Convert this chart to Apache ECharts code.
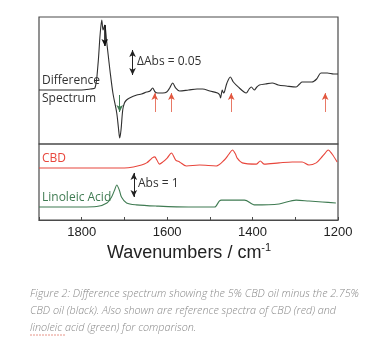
<!DOCTYPE html>
<html>
<head>
<meta charset="utf-8">
<script src="https://cdn.jsdelivr.net/npm/echarts@6/dist/echarts.min.js"></script>
<style>
html, body { margin: 0; padding: 0; background: #fff; }
#main { width: 391px; height: 354px; }
</style>
</head>
<body>
<div id="main"></div>
<script>
// difference spectrum (5% minus 2.75% CBD oil), delta Abs
var diffWn = [1900, 1850, 1800, 1780, 1769, 1762, 1757, 1753, 1750, 1746, 1742, 1738, 1734, 1727, 1718, 1714, 1711, 1708, 1704, 1700, 1695, 1688, 1671, 1660, 1648, 1640, 1634, 1628, 1622, 1610, 1601, 1594, 1587, 1580, 1571, 1550, 1530, 1517, 1500, 1482, 1477, 1475, 1471, 1468, 1466, 1460, 1452, 1445, 1431, 1420, 1415, 1408, 1403, 1396, 1390, 1384, 1370, 1354, 1340, 1321, 1298, 1290, 1284, 1270, 1261, 1250, 1240, 1225, 1210, 1200];
var diffAbs = [0, 0, 0, 0.002, 0.004, 0.05, 0.11, 0.14, 0.12, 0.13, 0.1, 0.07, 0.04, -0.006, -0.046, -0.076, -0.096, -0.08, -0.04, -0.026, -0.02, -0.016, -0.01, -0.008, -0.004, -0.002, 0.004, -0.004, -0.006, -0.006, -0.004, 0.004, 0.014, 0.004, -0.002, 0, 0.002, 0.002, -0.002, -0.006, -0.01, -0.016, 0, -0.006, -0.004, 0.014, 0.026, 0.016, 0.004, -0.004, -0.006, 0.002, 0.006, 0, 0.006, 0.01, 0.012, 0.014, 0.01, 0.008, 0.006, 0.012, 0.016, 0.016, 0.016, 0.022, 0.034, 0.034, 0.032, 0.032];

// reference spectra, Abs
var cbdWn = [1900, 1800, 1700, 1679, 1660, 1648, 1640, 1634, 1629, 1624, 1618, 1610, 1600, 1590, 1580, 1571, 1555, 1524, 1485, 1466, 1455, 1447, 1440, 1436, 1424, 1391, 1382, 1373, 1338, 1307, 1284, 1268, 1251, 1240, 1230, 1223, 1214, 1202];
var cbdAbs = [2.17, 2.17, 2.17, 2.21, 2.29, 2.38, 2.5, 2.6, 2.63, 2.5, 2.33, 2.42, 2.58, 2.79, 2.5, 2.42, 2.25, 2.29, 2.25, 2.5, 2.75, 2.92, 2.75, 2.58, 2.38, 2.33, 2.46, 2.33, 2.38, 2.42, 2.42, 2.29, 2.38, 2.58, 2.79, 2.92, 2.75, 2.42];
var linWn = [1900, 1800, 1765, 1741, 1730, 1723, 1718, 1712, 1707, 1695, 1672, 1625, 1550, 1489, 1478, 1473, 1419, 1401, 1396, 1338, 1298, 1268, 1237, 1205];
var linAbs = [0.54, 0.54, 0.56, 0.71, 0.96, 1.25, 1.46, 1.25, 0.96, 0.71, 0.63, 0.58, 0.54, 0.54, 0.79, 0.83, 0.83, 0.67, 0.63, 0.67, 0.83, 0.79, 0.75, 0.71];

// axis ticks
var xMin = 1200, xMax = 1900, xStep = 100, labelStep = 200;

// annotations (wavenumber, value range)
var redArrowWn = [1629, 1590, 1450, 1230];
var redArrowY = [-0.044, -0.006];
var greenArrowWn = 1711, greenArrowY = [-0.01, -0.044];
var peakArrowWn = 1746, peakArrowY = [0.13, 0.088];
var dAbsWn = 1681, dAbsY = [0.08, 0.03];
var absWn = 1678, absY = [1.96, 0.96];

function pairs(xs, ys) {
	var out = [];
	for (var i = 0; i < xs.length; i++) out.push([xs[i], ys[i]]);
	return out;
}

function seg(x, y0, y1, color, syms, w) {
	return [
		{ coord: [x, y0], symbol: syms[0], lineStyle: { color: color, width: w, type: 'solid' } },
		{ coord: [x, y1], symbol: syms[1] }
	];
}

var black = '#2f2f2f', red = '#e8463c', green = '#3f7b52', arrowRed = '#e2573f';

var diffMarks = [];
for (var i = 0; i < redArrowWn.length; i++) {
	diffMarks.push(seg(redArrowWn[i], redArrowY[0], redArrowY[1], arrowRed, ['none', 'arrow'], 0.8));
}
diffMarks.push(seg(greenArrowWn, greenArrowY[0], greenArrowY[1], green, ['none', 'arrow'], 1));
diffMarks.push(seg(peakArrowWn, peakArrowY[0], peakArrowY[1], '#111', ['none', 'arrow'], 1.6));
diffMarks.push(seg(dAbsWn, dAbsY[0], dAbsY[1], '#222', ['arrow', 'arrow'], 1));

var chart = echarts.init(document.getElementById('main'));

var xCommon = {
	type: 'value',
	min: xMin,
	max: xMax,
	interval: xStep,
	inverse: true,
	splitLine: { show: false }
};

var captionFont = 'italic 300 10.8px "Open Sans"';

var option = {
	animation: false,
	grid: [
		{ left: 39, right: 53, top: 17, height: 127, show: true, borderColor: '#4a4a4a', borderWidth: 1.2, backgroundColor: 'transparent' },
		{ left: 39, right: 53, top: 144, height: 76, show: true, borderColor: '#4a4a4a', borderWidth: 1.2, backgroundColor: 'transparent' }
	],
	xAxis: [
		Object.assign({}, xCommon, { gridIndex: 0, show: false }),
		Object.assign({}, xCommon, {
			gridIndex: 1,
			axisLine: { show: true, lineStyle: { color: '#4a4a4a', width: 1.2 } },
			axisTick: { show: true, inside: true, length: 3, lineStyle: { color: '#4a4a4a' } },
			axisLabel: {
				margin: 6,
				fontFamily: 'Liberation Sans',
				fontSize: 13,
				color: '#222',
				formatter: function (v) {
					return v % labelStep === 0 ? String(v) : '';
				}
			}
		})
	],
	yAxis: [
		{ type: 'value', gridIndex: 0, min: -0.108, max: 0.146, show: false, splitLine: { show: false } },
		{ type: 'value', gridIndex: 1, min: 0, max: 3.167, show: false, splitLine: { show: false } }
	],
	series: [
		{
			name: 'Difference Spectrum',
			type: 'line',
			xAxisIndex: 0,
			yAxisIndex: 0,
			data: pairs(diffWn, diffAbs),
			showSymbol: false,
			smooth: 0.3,
			lineStyle: { color: black, width: 1.1 },
			markLine: {
				silent: true,
				symbolSize: [5, 7],
				label: { show: false },
				data: diffMarks
			}
		},
		{
			name: 'CBD',
			type: 'line',
			xAxisIndex: 1,
			yAxisIndex: 1,
			data: pairs(cbdWn, cbdAbs),
			showSymbol: false,
			smooth: 0.3,
			lineStyle: { color: red, width: 1.1 }
		},
		{
			name: 'Linoleic Acid',
			type: 'line',
			xAxisIndex: 1,
			yAxisIndex: 1,
			data: pairs(linWn, linAbs),
			showSymbol: false,
			smooth: 0.3,
			lineStyle: { color: green, width: 1.1 },
			markLine: {
				silent: true,
				symbolSize: [5, 7],
				label: { show: false },
				data: [seg(absWn, absY[0], absY[1], '#222', ['arrow', 'arrow'], 1)]
			}
		}
	],
	graphic: [
		{ type: 'text', left: 42, top: 75, style: { text: 'Difference', font: '12px "Open Sans"', fill: '#333' } },
		{ type: 'text', left: 42, top: 93, style: { text: 'Spectrum', font: '12px "Open Sans"', fill: '#333' } },
		{ type: 'text', left: 137, top: 56, style: { text: '\u0394Abs = 0.05', font: '12px "Open Sans"', fill: '#333' } },
		{ type: 'text', left: 42, top: 153, style: { text: 'CBD', font: '12px "Open Sans"', fill: red } },
		{ type: 'text', left: 42, top: 192, style: { text: 'Linoleic Acid', font: '12px "Open Sans"', fill: green } },
		{ type: 'text', left: 138, top: 178, style: { text: 'Abs = 1', font: '12px "Open Sans"', fill: '#333' } },
		{
			type: 'text', left: 107, top: 242,
			style: {
				text: '{m|Wavenumbers / cm}{s|-1}',
				rich: {
					m: { fontFamily: 'Liberation Sans', fontSize: 18, fill: '#222', color: '#222' },
					s: { fontFamily: 'Liberation Sans', fontSize: 11, fill: '#222', color: '#222', padding: [0, 0, 12, 0] }
				}
			}
		},
		{ type: 'text', left: 30, top: 288, style: { text: 'Figure 2: Difference spectrum showing the 5% CBD oil minus the 2.75%', font: captionFont, fill: '#888' } },
		{ type: 'text', left: 30, top: 305, style: { text: 'CBD oil (black). Also shown are reference spectra of CBD (red) and', font: captionFont, fill: '#888' } },
		{ type: 'text', left: 30, top: 322, style: { text: 'linoleic acid (green) for comparison.', font: captionFont, fill: '#888' } },
		{ type: 'line', shape: { x1: 30, y1: 335, x2: 66, y2: 335 }, style: { stroke: '#e07a6a', lineWidth: 0.8, lineDash: [2, 1] } }
	]
};

chart.setOption(option);
</script>
</body>
</html>
